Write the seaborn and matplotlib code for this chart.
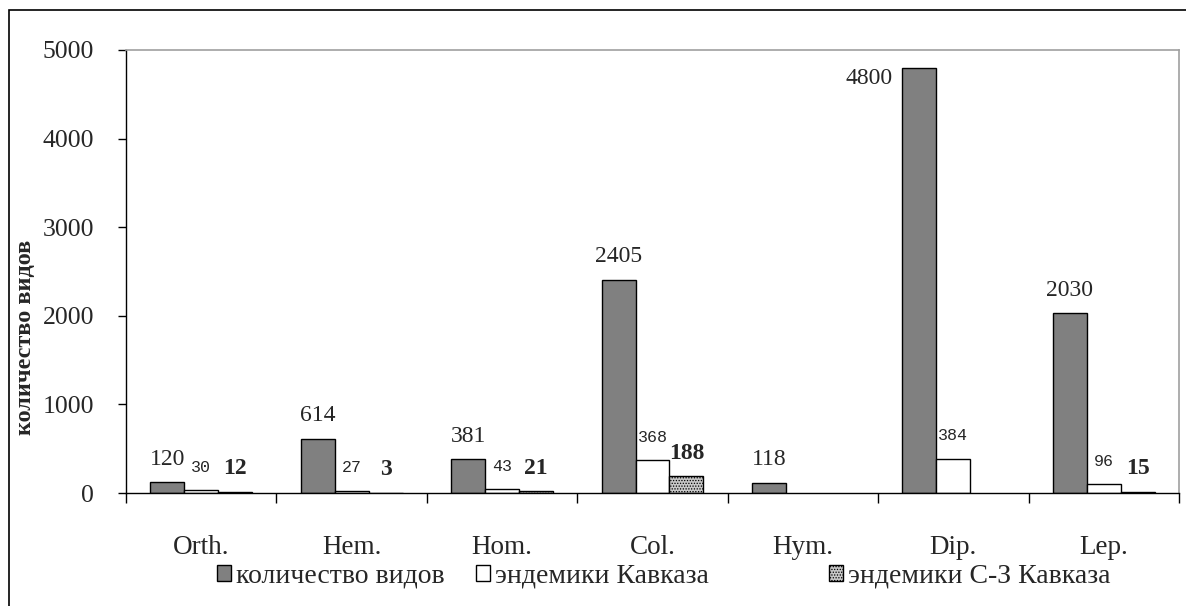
#!/usr/bin/env python3

import pandas as pd
import matplotlib.pyplot as plt
import seaborn as sns
from matplotlib.patches import Patch, Rectangle

# values
groups = ['Orth.', 'Hem.', 'Hom.', 'Col.', 'Hym.', 'Dip.', 'Lep.']
species_total = [120, 614, 381, 2405, 118, 4800, 2030]
endemic_caucasus = [30, 27, 43, 368, None, 384, 96]
endemic_nw_caucasus = [12, 3, 21, 188, None, None, 15]
series_names = ['количество видов', 'эндемики Кавказа', 'эндемики С-З Кавказа']
y_ticks = [0, 1000, 2000, 3000, 4000, 5000]
y_label = 'количество видов'

SERIF = ['Liberation Serif', 'DejaVu Serif']
MONO = ['Liberation Mono', 'DejaVu Sans Mono']
colors = ['#808080', '#ffffff', '#c8c8c8']


def build_frame():
    """Long-form table for seaborn, one row per bar"""
    rows = []
    all_values = [species_total, endemic_caucasus, endemic_nw_caucasus]
    for name, values in zip(series_names, all_values):
        for g, v in zip(groups, values):
            rows.append({'group': g, 'series': name, 'count': v})
    return pd.DataFrame(rows)


def main():
    sns.set_theme(style='white')
    plt.rcParams['font.family'] = SERIF
    plt.rcParams['hatch.linewidth'] = 0.6

    df = build_frame()

    fig = plt.figure(figsize=(11.86, 6.06), dpi=100)
    ax = fig.add_axes([126 / 1186, 1 - 493 / 606, 1053 / 1186, 443 / 606])

    sns.barplot(data=df, x='group', y='count', hue='series',
                order=groups, hue_order=series_names, palette=colors,
                width=0.678, gap=0, saturation=1, edgecolor='black',
                linewidth=1, legend=False, ax=ax)

    # dotted fill of the third series
    for bar in ax.containers[2]:
        bar.set_hatch('......')
        if hasattr(bar, 'set_hatchcolor'):
            bar.set_hatchcolor('#707070')

    ax.set_ylim(0, 5000)
    ax.set_xlim(-0.5, len(groups) - 0.5)
    ax.set_yticks(y_ticks)
    ax.set_yticklabels([str(t) for t in y_ticks], fontsize=18.5)
    ax.tick_params(axis='y', direction='out', length=6, width=1,
                   color='black', pad=17, left=True)
    ax.set_xticks(range(len(groups)))
    ax.set_xticklabels(groups, fontsize=19.5)
    ax.set_xticks([i - 0.5 for i in range(len(groups) + 1)], minor=True)
    ax.tick_params(axis='x', which='major', length=0, pad=30)
    ax.tick_params(axis='x', which='minor', direction='out', length=7,
                   width=1, color='black', bottom=True)
    ax.set_xlabel('')
    ax.set_ylabel(y_label, fontsize=17.5, fontweight='bold')
    ax.yaxis.set_label_coords(-0.085, 0.352)

    for side in ['left', 'bottom']:
        ax.spines[side].set_color('black')
        ax.spines[side].set_linewidth(1)
    for side in ['top', 'right']:
        ax.spines[side].set_color('#a0a0a0')
        ax.spines[side].set_linewidth(1.2)

    # value labels
    label_styles = [
        dict(family=SERIF, fontsize=17),
        dict(family=MONO, fontsize=12),
        dict(family=SERIF, fontsize=17, fontweight='bold'),
    ]
    for container, style in zip(ax.containers, label_styles):
        for bar in container:
            h = bar.get_height()
            if pd.isna(h):
                continue
            if h > 0.9 * 5000:
                # no room above: put the label left of the bar
                ax.annotate(f"{int(h)}", xy=(bar.get_x(), h), xytext=(-10, -11),
                            textcoords='offset pixels', ha='right', va='center',
                            **style)
            else:
                ax.annotate(f"{int(h)}", xy=(bar.get_x() + bar.get_width() / 2, h),
                            xytext=(0, 23), textcoords='offset pixels',
                            ha='center', va='center', **style)

    # legend entries spread along the bottom
    anchors = [217 / 1186, 476 / 1186, 829 / 1186]
    for name, color, hatch, x in zip(series_names, colors, ['', '', '......'], anchors):
        handle = Patch(facecolor=color, edgecolor='black', hatch=hatch, linewidth=1)
        if hatch and hasattr(handle, 'set_hatchcolor'):
            handle.set_hatchcolor('#707070')
        fig.legend(handles=[handle], labels=[name], loc='center left',
                   bbox_to_anchor=(x, 1 - 576 / 606), frameon=False,
                   fontsize=20, handlelength=0.5, handleheight=0.5,
                   handletextpad=0.2, borderpad=0, borderaxespad=0)

    # chart frame (only top and left edges fall inside the picture)
    fig.patches.append(Rectangle((9 / 1186, -0.1), 1.2, 1.1 - 10 / 606,
                                 transform=fig.transFigure, fill=False,
                                 edgecolor='black', linewidth=1.2))

    fig.savefig('out.png', dpi=100)
    plt.close(fig)


if __name__ == "__main__":
    main()
